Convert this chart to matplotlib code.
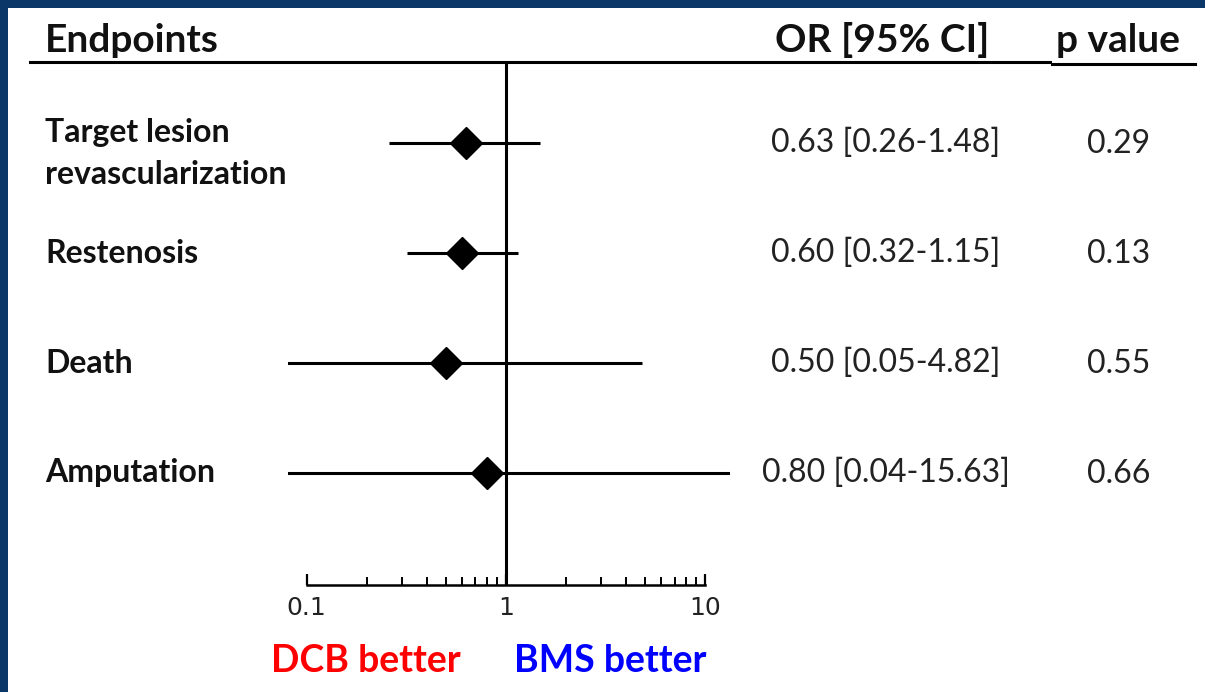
import numpy as np
import matplotlib
matplotlib.use("Agg")
import matplotlib.pyplot as plt
import matplotlib.transforms as mtransforms
from matplotlib.patches import Rectangle
from matplotlib.ticker import FixedLocator, NullFormatter

# data
endpoints = ["Target lesion\nrevascularization", "Restenosis", "Death", "Amputation"]
odds_ratio = [0.63, 0.60, 0.50, 0.80]
ci_low = [0.26, 0.32, 0.05, 0.04]
ci_high = [1.48, 1.15, 4.82, 15.63]
p_values = ["0.29", "0.13", "0.55", "0.66"]
tick_values = [0.1, 1, 10]
tick_labels = ["0.1", "1", "10"]

W, H = 1205, 692
fig = plt.figure(figsize=(W / 100, H / 100), dpi=100)
fig.patch.set_facecolor("#0b3768")

# white slide panel, kept behind the axes
fig.patches.append(Rectangle((8 / W, 0), 1 - 8 / W, 1 - 8 / H, transform=fig.transFigure,
                             facecolor="white", edgecolor="none", zorder=-5))

# forest plot axes
left, right = 288 / W, 730 / W
bottom, top = 1 - 585 / H, 1 - 62 / H
ax = fig.add_axes([left, bottom, right - left, top - bottom])
ax.set_facecolor("none")
ax.set_xscale("log")
ax.set_xlim(0.0807, 13.27)
ax.set_ylim(-0.02, 4.74)

rows = np.arange(len(endpoints), 0, -1)  # top row first

ax.hlines(rows, ci_low, ci_high, color="black", lw=2.2, zorder=2)
ax.plot(odds_ratio, rows, "D", color="black", ms=16.5, zorder=3)
ax.axvline(1, color="black", lw=2.2, zorder=1)

for side in ["top", "right", "left"]:
    ax.spines[side].set_visible(False)
ax.spines["bottom"].set_bounds(0.1, 10)
ax.spines["bottom"].set_linewidth(1.8)
ax.set_yticks([])

ax.set_xticks(tick_values, tick_labels, fontsize=18, family="DejaVu Sans", color="#222222")
ax.xaxis.set_minor_locator(FixedLocator([m * d for d in (0.1, 1) for m in range(2, 10)]))
ax.xaxis.set_minor_formatter(NullFormatter())
ax.tick_params(axis="x", which="major", direction="in", length=8, width=1.6, pad=8)
ax.tick_params(axis="x", which="minor", direction="in", length=5.5, width=1.4)

# text columns: x in figure fraction, y in data rows
trans = mtransforms.blended_transform_factory(fig.transFigure, ax.transData)
lbl = dict(fontsize=23, fontweight="bold", family="Lato", color="#111111",
           ha="left", va="center", transform=trans)

for r, name in zip(rows, endpoints):
    if "\n" in name:
        first, second = name.split("\n")
        ax.text(45 / W, r + 0.1, first, **lbl)
        ax.text(45 / W, r - 0.28, second, **lbl)
    else:
        ax.text(45 / W, r, name, **lbl)

num = dict(fontsize=23, family="Lato", color="#222222", ha="center", va="center",
           transform=trans)
for r, orv, lo, hi, p in zip(rows, odds_ratio, ci_low, ci_high, p_values):
    ax.text(886 / W, r, f"{orv:.2f} [{lo:.2f}-{hi:.2f}]", **num)
    ax.text(1119 / W, r - 0.01, p, **num)

# header
hdr = dict(fontsize=28, fontweight="bold", family="Lato", color="#111111", va="center")
fig.text(45 / W, 1 - 40 / H, "Endpoints", ha="left", **hdr)
fig.text(882 / W, 1 - 40 / H, "OR [95% CI]", ha="center", **hdr)
fig.text(1118 / W, 1 - 40 / H, "p value", ha="center", **hdr)
fig.add_artist(plt.Line2D([30 / W, 1050 / W], [1 - 62 / H, 1 - 62 / H],
                          transform=fig.transFigure, color="black", lw=2.2))
fig.add_artist(plt.Line2D([1052 / W, 1195 / W], [1 - 64 / H, 1 - 64 / H],
                          transform=fig.transFigure, color="black", lw=2.2))

# direction labels
fig.text(366 / W, 1 - 661 / H, "DCB better", ha="center", va="center",
         fontsize=27, fontweight="bold", family="Lato", color="#ff0000")
fig.text(610 / W, 1 - 661 / H, "BMS better", ha="center", va="center",
         fontsize=27, fontweight="bold", family="Lato", color="#0000ff")

fig.savefig("out.png", dpi=100, facecolor=fig.get_facecolor())
